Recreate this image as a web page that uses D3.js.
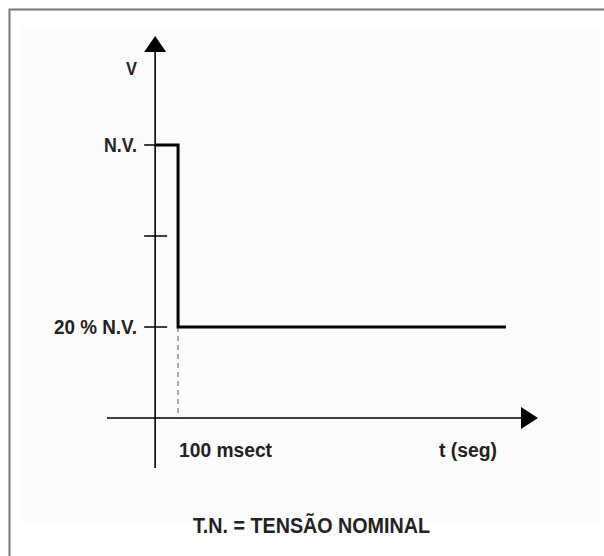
<!DOCTYPE html>
<html lang="pt">
<head>
<meta charset="UTF-8">
<script src="https://d3js.org/d3.v7.min.js"></script>
<title>tensao</title>
<style>
  body { margin: 0; background: #fff; }
  text { font-family: "Liberation Sans", Arial, sans-serif; font-weight: bold; fill: #222; }
</style>
</head>
<body>
<script>
    // valores do degrau (t em ms, V em % de N.V.)
    const tSteps = [0, 100, 100, 1530];
    const vSteps = [100, 100, 20, 20];
    const vTicks = [20, 60, 100];
    const vTickLabels = ["20 % N.V.", "", "N.V."];
    const tLabelText = "100 msect";
    const tMark = 100;

    const width = 604, height = 556;

    const svg = d3.select("body").append("svg")
        .attr("width", width)
        .attr("height", height);

    // moldura
    svg.append("rect")
        .attr("x", 9.5).attr("y", 9.5)
        .attr("width", 620).attr("height", 580)
        .attr("fill", "#fff")
        .attr("stroke", "#777").attr("stroke-width", 2);
    svg.append("rect")
        .attr("x", 21).attr("y", 27)
        .attr("width", 580).attr("height", 495)
        .attr("fill", "#fcfcfc");

    let x = d3.scaleLinear().domain([-210, 1670]).range([107, 538]);
    let y = d3.scaleLinear().domain([-20, 100]).range([418, 145]);

    const g = svg.append("g");

    // eixo V
    g.append("line")
        .attr("x1", x(0)).attr("x2", x(0))
        .attr("y1", y(-42)).attr("y2", 50)
        .attr("stroke", "#000").attr("stroke-width", 1.6);
    g.append("path")
        .attr("d", `M${x(0)},36 L${x(0) + 11},52 L${x(0) - 11},52 Z`)
        .attr("fill", "#000");

    // eixo t
    g.append("line")
        .attr("x1", x(-210)).attr("x2", 522)
        .attr("y1", y(-20)).attr("y2", y(-20))
        .attr("stroke", "#000").attr("stroke-width", 1.6);
    g.append("path")
        .attr("d", `M538,${y(-20)} L521,${y(-20) - 11} L521,${y(-20) + 11} Z`)
        .attr("fill", "#000");

    // marcas do eixo V
    g.selectAll(".vtick")
        .data(vTicks)
        .enter()
        .append("line")
        .attr("x1", x(0) - 11).attr("x2", x(0) + 12)
        .attr("y1", d => y(d)).attr("y2", d => y(d))
        .attr("stroke", "#000").attr("stroke-width", 1.5);

    const labelWidths = [83, 0, 33];
    g.selectAll(".vlabel")
        .data(vTicks)
        .enter()
        .filter((d, i) => vTickLabels[i] !== "")
        .append("text")
        .attr("x", 137)
        .attr("y", d => y(d) + 7)
        .attr("text-anchor", "end")
        .attr("font-size", 20)
        .attr("textLength", d => labelWidths[vTicks.indexOf(d)])
        .attr("lengthAdjust", "spacingAndGlyphs")
        .text(d => vTickLabels[vTicks.indexOf(d)]);

    g.append("text")
        .attr("x", 126).attr("y", 75)
        .attr("font-size", 19)
        .attr("textLength", 11).attr("lengthAdjust", "spacingAndGlyphs")
        .text("V");

    // linha tracejada em t = 100 ms
    g.append("line")
        .attr("x1", x(tMark)).attr("x2", x(tMark))
        .attr("y1", y(20)).attr("y2", y(-20))
        .attr("stroke", "#555").attr("stroke-width", 1)
        .attr("stroke-dasharray", "5,4");

    // degrau de tensão
    const line = d3.line()
        .x(d => x(d[0]))
        .y(d => y(d[1]));
    g.append("path")
        .datum(tSteps.map((t, i) => [t, vSteps[i]]))
        .attr("d", line)
        .attr("fill", "none")
        .attr("stroke", "#000")
        .attr("stroke-width", 3);

    // textos do eixo t
    g.append("text")
        .attr("x", 179).attr("y", 457)
        .attr("font-size", 20)
        .attr("textLength", 93).attr("lengthAdjust", "spacingAndGlyphs")
        .text(tLabelText);
    g.append("text")
        .attr("x", 439).attr("y", 457)
        .attr("font-size", 20)
        .attr("textLength", 58).attr("lengthAdjust", "spacingAndGlyphs")
        .text("t (seg)");

    g.append("text")
        .attr("x", 193).attr("y", 533)
        .attr("font-size", 22)
        .attr("textLength", 237).attr("lengthAdjust", "spacingAndGlyphs")
        .text("T.N. = TENSÃO NOMINAL");
</script>
</body>
</html>
